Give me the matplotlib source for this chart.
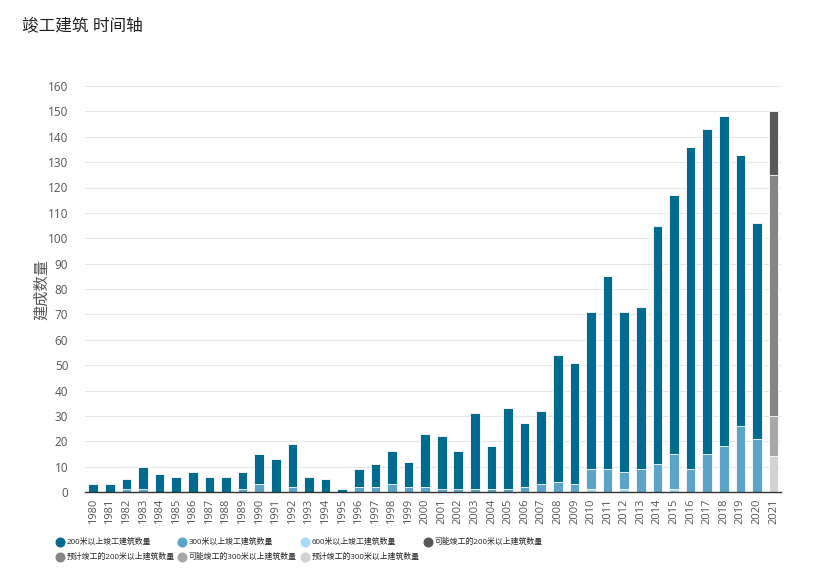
import matplotlib
matplotlib.use("Agg")
import matplotlib.pyplot as plt
from matplotlib.lines import Line2D

plt.rcParams['font.family'] = ['Open Sans', 'Noto Sans CJK SC', 'DejaVu Sans']

years = [str(y) for y in range(1980, 2022)]
built_200 = [3, 3, 5, 10, 7, 6, 8, 6, 6, 8, 15, 13, 19, 6, 5, 1, 9, 11, 16, 12,
             23, 22, 16, 31, 18, 33, 27, 32, 54, 51, 71, 85, 71, 73, 105, 117,
             136, 143, 148, 133, 106, 0]
built_300 = [0, 0, 1, 1, 0, 0, 0, 0, 0, 1, 3, 0, 2, 0, 0, 0, 2, 2, 3, 2,
             2, 1, 1, 1, 1, 1, 2, 3, 4, 3, 9, 9, 8, 9, 11, 15,
             9, 15, 18, 26, 21, 0]
built_600 = [0] * 30 + [1, 0, 1, 0, 0, 1, 0, 0, 0, 0, 0, 0]
possible_200 = [0] * 41 + [150]
expected_200 = [0] * 41 + [125]
possible_300 = [0] * 41 + [30]
expected_300 = [0] * 41 + [14]

series = [
    ("200米以上竣工建筑数量", built_200, "#006a8f"),
    ("300米以上竣工建筑数量", built_300, "#5ca3c8"),
    ("600米以上竣工建筑数量", built_600, "#a8dbf3"),
    ("可能竣工的200米以上建筑数量", possible_200, "#58595b"),
    ("预计竣工的200米以上建筑数量", expected_200, "#858585"),
    ("可能竣工的300米以上建筑数量", possible_300, "#a8a8a8"),
    ("预计竣工的300米以上建筑数量", expected_300, "#d3d3d3"),
]

fig = plt.figure(figsize=(8.3, 5.86), dpi=100)
ax = fig.add_axes([85 / 830, 1 - 492 / 586, (781 - 85) / 830, (492 - 86) / 586])

x = list(range(len(years)))
for i, (name, vals, col) in enumerate(series):
    ax.bar(x, vals, width=0.58, color=col, edgecolor="white", linewidth=0.6,
           zorder=3 + i)

ax.set_xlim(-0.5, 41.45)
ax.set_ylim(0, 160)
ax.set_yticks(range(0, 161, 10))
ax.set_xticks(x)
ax.set_xticklabels(years, rotation=90, fontsize=8, color="#555555")
ax.tick_params(axis='y', length=0, pad=12, labelsize=8.5, labelcolor="#555555")
ax.tick_params(axis='x', length=0, pad=5)
ax.grid(axis='y', color="#e6e6e6", linewidth=0.8, zorder=0)
for s in ["top", "right", "left"]:
    ax.spines[s].set_visible(False)
ax.spines["bottom"].set_color("#333333")
ax.spines["bottom"].set_linewidth(1.0)
ax.spines["bottom"].set_zorder(20)

ax.set_ylabel("建成数量", fontsize=11, color="#555555")
ax.yaxis.set_label_coords((50 - 85) / 696, 0.5)

fig.text(22 / 830, 1 - 27 / 586, "竣工建筑 时间轴", fontsize=12, color="#222222",
         va="center", ha="left")

col_x = [60, 182, 305, 428]
row_y = [542, 557]
for k, (lab, _, col) in enumerate(series):
    r, c = divmod(k, 4)
    fx = col_x[c] / 830
    fy = 1 - row_y[r] / 586
    fig.lines.append(Line2D([fx], [fy], marker='o', markersize=6.2, linestyle='none',
                            markerfacecolor=col, markeredgecolor=col,
                            transform=fig.transFigure))
    fig.text(fx + 6.5 / 830, fy, lab, fontsize=5.7, color="#222222",
             va="center", ha="left")

fig.savefig("out.png", dpi=100)
